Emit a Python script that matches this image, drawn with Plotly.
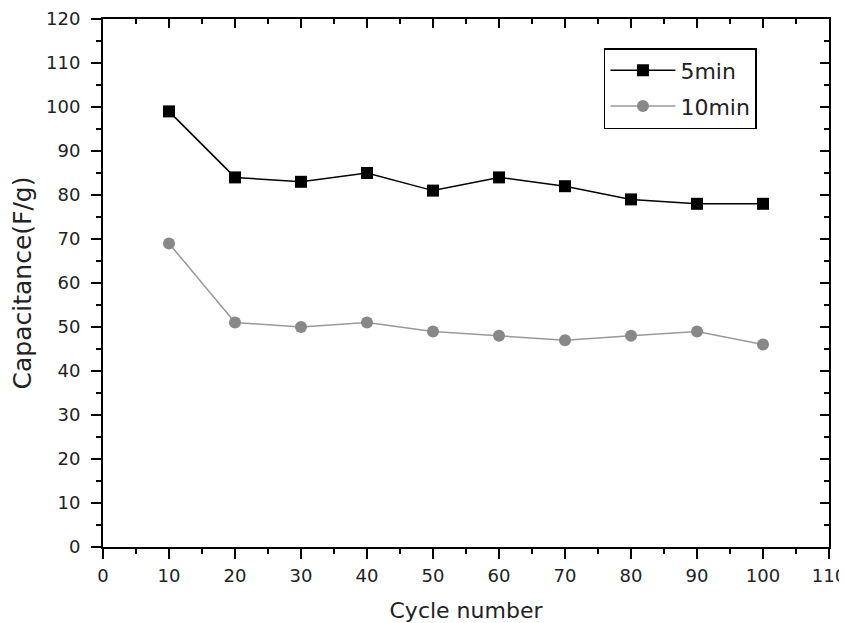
import plotly.graph_objects as go

cycles = [10, 20, 30, 40, 50, 60, 70, 80, 90, 100]
cap_5min = [99, 84, 83, 85, 81, 84, 82, 79, 78, 78]
cap_10min = [69, 51, 50, 51, 49, 48, 47, 48, 49, 46]
x_ticks = list(range(0, 111, 10))
y_ticks = list(range(0, 121, 10))

FONT = "DejaVu Sans, Liberation Sans, Arial, sans-serif"
TXT = "#222222"

fig = go.Figure()
fig.add_trace(go.Scatter(x=cycles, y=cap_5min, mode="lines+markers", name="5min",
                         legendgroup="a",
                         line=dict(color="black", width=1.5),
                         marker=dict(symbol="square", size=12, color="black")))
fig.add_trace(go.Scatter(x=cycles, y=cap_10min, mode="lines+markers", name="10min",
                         legendgroup="b",
                         line=dict(color="#999999", width=1.5),
                         marker=dict(symbol="circle", size=12, color="#888888")))

axis_common = dict(showgrid=False, zeroline=False, showline=True, linecolor="black",
                   linewidth=2, tickcolor="black", tickwidth=2, ticklen=10, automargin=False,
                   tickfont=dict(family=FONT, size=18, color=TXT))
mirror_common = dict(showticklabels=False, showgrid=False, zeroline=False, showline=True,
                     linecolor="black", linewidth=2, tickcolor="black", tickwidth=2, ticklen=9,
                     ticks="inside", automargin=False,
                     minor=dict(dtick=5, ticks="inside", ticklen=5, tickwidth=2, tickcolor="black"))

fig.update_layout(
    width=847, height=623,
    margin=dict(l=95, r=26, t=11, b=84),
    plot_bgcolor="white", paper_bgcolor="white",
    font=dict(family=FONT),
    xaxis=dict(range=[0, 110], tickvals=x_ticks, ticks="outside", ticklabelstandoff=1,
               minor=dict(dtick=5, ticks="outside", ticklen=5, tickwidth=2, tickcolor="black"),
               title=dict(text="Cycle number", font=dict(family=FONT, size=22, color=TXT), standoff=18),
               **axis_common),
    yaxis=dict(range=[0, 120], tickvals=y_ticks, ticks="outside", ticklabelstandoff=7,
               minor=dict(dtick=5, ticks="outside", ticklen=5, tickwidth=2, tickcolor="black"),
               title=dict(text="Capacitance(F/g)", font=dict(family=FONT, size=25, color=TXT), standoff=10),
               **axis_common),
    xaxis2=dict(range=[0, 110], overlaying="x", side="top", tickvals=x_ticks, **mirror_common),
    yaxis2=dict(range=[0, 120], overlaying="y", side="right", tickvals=y_ticks, **mirror_common),
    legend=dict(x=0.690, y=0.945, xanchor="left", yanchor="top",
                bordercolor="black", borderwidth=1.5, bgcolor="white",
                font=dict(family=FONT, size=22, color=TXT),
                tracegroupgap=4, itemwidth=65),
    showlegend=True,
)
fig.add_trace(go.Scatter(x=[None], y=[None], xaxis="x2", yaxis="y2", showlegend=False, hoverinfo="skip"))

fig.write_html("out.html")
